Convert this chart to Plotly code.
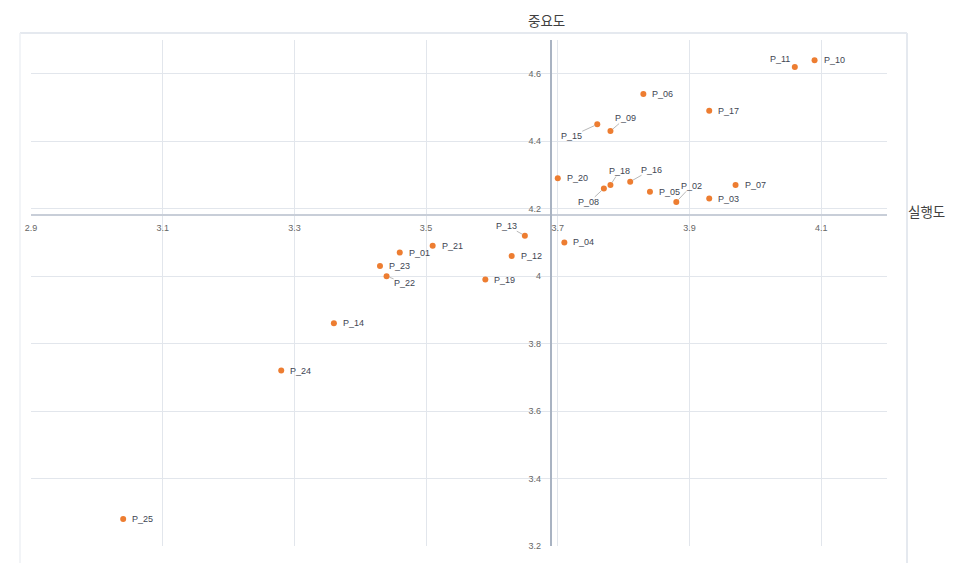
import numpy as np
import plotly.graph_objects as go

# ---- data ----
labels = ["P_01", "P_02", "P_03", "P_04", "P_05", "P_06", "P_07", "P_08", "P_09", "P_10",
          "P_11", "P_12", "P_13", "P_14", "P_15", "P_16", "P_17", "P_18", "P_19", "P_20",
          "P_21", "P_22", "P_23", "P_24", "P_25"]
performance = [3.46, 3.88, 3.93, 3.71, 3.84, 3.83, 3.97, 3.77, 3.78, 4.09,
               4.06, 3.63, 3.65, 3.36, 3.76, 3.81, 3.93, 3.78, 3.59, 3.70,
               3.51, 3.44, 3.43, 3.28, 3.04]
importance = [4.07, 4.22, 4.23, 4.10, 4.25, 4.54, 4.27, 4.26, 4.43, 4.64,
              4.62, 4.06, 4.12, 3.86, 4.45, 4.28, 4.49, 4.27, 3.99, 4.29,
              4.09, 4.00, 4.03, 3.72, 3.28]
x_title = "실행도"
y_title = "중요도"

# ---- style ----
x_range = [2.9, 4.2]
y_range = [3.2, 4.7]
x_cross = float(np.mean(performance))
y_cross = float(np.mean(importance))

# custom label offsets (pixels, screen coords): (dx, dy, leader line)
special = {
    "P_11": (-15, -8, False),
    "P_15": (-26, 12, True),
    "P_09": (15, -13, True),
    "P_18": (9, -14, True),
    "P_16": (21, -12, True),
    "P_08": (-15, 14, True),
    "P_02": (15, -16, True),
    "P_13": (-18, -10, True),
    "P_22": (18, 7, True),
}

LABEL_FONT = dict(family="Liberation Sans, Arial", size=9, color="#404552")
TICK_FONT = dict(family="Liberation Sans, Arial", size=9, color="#666666")
TITLE_FONT = dict(family="Noto Sans CJK KR, sans-serif", size=13.5, color="#404040")
GRID = "#e2e6ec"

fig = go.Figure()
fig.add_trace(go.Scatter(
    x=performance, y=importance, mode="markers",
    marker=dict(color="#ed7d31", size=6),
    hoverinfo="text", text=labels, showlegend=False,
))

annotations = []
for name, xv, yv in zip(labels, performance, importance):
    if name in special:
        dx, dy, leader = special[name]
        if leader:
            annotations.append(dict(
                x=xv, y=yv, xref="x", yref="y", text=name, font=LABEL_FONT,
                showarrow=True, ax=dx, ay=dy, arrowhead=0, arrowwidth=0.8,
                arrowcolor="#a6a6a6", standoff=3, borderpad=0,
            ))
        else:
            annotations.append(dict(
                x=xv, y=yv, xref="x", yref="y", text=name, font=LABEL_FONT,
                showarrow=False, xshift=dx, yshift=-dy, borderpad=0,
            ))
    else:
        annotations.append(dict(
            x=xv, y=yv, xref="x", yref="y", text=name, font=LABEL_FONT,
            showarrow=False, xanchor="left", yanchor="middle", xshift=8, yshift=0,
            borderpad=0,
        ))

W, H = 964, 574
ml, mr, mt, mb = 31, 77, 40, 28
pw, ph = W - ml - mr, H - mt - mb


def px_x(p):
    return (p - ml) / pw


def px_y(p):
    return (H - mb - p) / ph


annotations.append(dict(x=px_x(546), y=px_y(20.5), xref="paper", yref="paper",
                        text=y_title, showarrow=False, font=TITLE_FONT,
                        xanchor="center", yanchor="middle"))
annotations.append(dict(x=px_x(926), y=px_y(211), xref="paper", yref="paper",
                        text=x_title, showarrow=False, font=TITLE_FONT,
                        xanchor="center", yanchor="middle"))

frame_col = "#e5e9ef"
shapes = [
    dict(type="line", xref="paper", yref="paper", x0=px_x(20), x1=px_x(907),
         y0=px_y(33), y1=px_y(33), line=dict(color=frame_col, width=2)),
    dict(type="line", xref="paper", yref="paper", x0=px_x(20), x1=px_x(20),
         y0=px_y(33), y1=px_y(563), line=dict(color="#eef0f4", width=1.5)),
    dict(type="line", xref="paper", yref="paper", x0=px_x(907), x1=px_x(907),
         y0=px_y(33), y1=px_y(563), line=dict(color=frame_col, width=2)),
]

fig.update_layout(
    width=W, height=H,
    margin=dict(l=ml, r=mr, t=mt, b=mb, pad=0),
    paper_bgcolor="white", plot_bgcolor="white",
    annotations=annotations, shapes=shapes,
    xaxis=dict(range=x_range, tick0=2.9, dtick=0.2, showgrid=True, gridcolor=GRID,
               gridwidth=1, zeroline=False, showline=True, linecolor="#c8ced8",
               linewidth=1.5, anchor="free",
               position=(y_cross - y_range[0]) / (y_range[1] - y_range[0]),
               side="bottom", ticks="", tickfont=TICK_FONT, ticklabelstandoff=5),
    yaxis=dict(range=y_range, tick0=3.2, dtick=0.2, showgrid=True, gridcolor=GRID,
               gridwidth=1, zeroline=False, showline=True, linecolor="#a9b3c2",
               linewidth=1.5, anchor="free",
               position=(x_cross - x_range[0]) / (x_range[1] - x_range[0]),
               side="left", ticks="", tickfont=TICK_FONT, ticklabelstandoff=7),
    hovermode="closest",
)

fig.write_html("out.html")
